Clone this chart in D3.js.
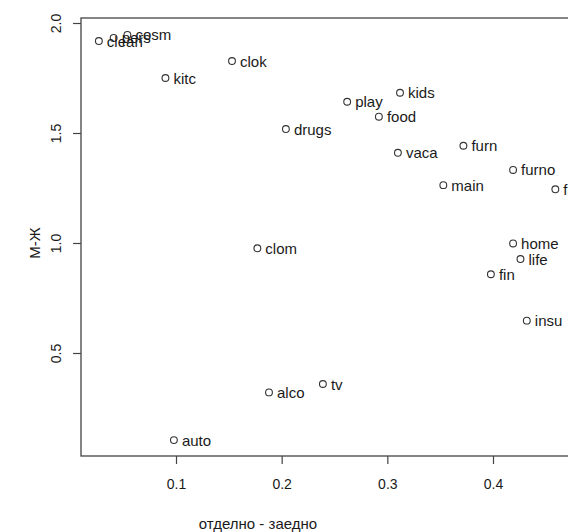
<!DOCTYPE html>
<html>
<head>
<meta charset="utf-8">
<script src="https://cdn.jsdelivr.net/npm/d3@7"></script>
<style>
  html, body { margin: 0; padding: 0; background: #fff; overflow: hidden; }
  svg { display: block; font-family: 'Liberation Sans', Arial, sans-serif; }
  .lbl { font-size: 15px; fill: #1a1a1a; }
  .tick-lbl { font-size: 14px; fill: #1a1a1a; }
  .title { font-size: 15px; fill: #1a1a1a; }
</style>
</head>
<body>
<svg id="chart" width="568" height="532"></svg>
<script>
// Category codes (point labels)
const categories = ['clean', 'pers', 'cosm', 'kitc', 'clok', 'play', 'kids', 'food', 'drugs',
  'vaca', 'furn', 'main', 'furno', 'fash', 'home', 'life', 'fin', 'insu', 'clom', 'alco', 'tv', 'auto']
// x: отделно - заедно
const xValues = [0.027, 0.041, 0.054, 0.090, 0.153, 0.262, 0.312, 0.292, 0.204,
  0.310, 0.372, 0.353, 0.419, 0.459, 0.419, 0.426, 0.398, 0.432, 0.177, 0.188, 0.239, 0.098]
// y: М-Ж
const yValues = [1.918, 1.932, 1.946, 1.750, 1.827, 1.642, 1.683, 1.574, 1.518,
  1.410, 1.442, 1.263, 1.332, 1.244, 0.998, 0.927, 0.858, 0.647, 0.976, 0.321, 0.359, 0.104]
const xTicks = [0.1, 0.2, 0.3, 0.4]
const yTicks = [0.5, 1.0, 1.5, 2.0]

const data = categories.map((c, i) => ({ label: c, x: xValues[i], y: yValues[i] }))

const svg = d3.select('#chart')
const box = { left: 81, top: 18, right: 620, bottom: 456 }

const x = d3.scaleLinear().domain([0.1, 0.4]).range([176, 493])
const y = d3.scaleLinear().domain([0.5, 2.0]).range([353, 23])

const fmt = d3.format('.1f')

// Box
svg.append('rect')
  .attr('x', box.left).attr('y', box.top)
  .attr('width', box.right - box.left).attr('height', box.bottom - box.top)
  .attr('fill', 'none').attr('stroke', '#444').attr('stroke-width', 1.3)

// X axis
const xa = svg.append('g')
  .attr('transform', `translate(0,${box.bottom})`)
  .call(d3.axisBottom(x).tickValues(xTicks).tickFormat(fmt).tickSize(8).tickPadding(15))
xa.select('.domain').remove()
xa.selectAll('line').attr('stroke', '#444').attr('stroke-width', 1.2)
xa.selectAll('text').attr('class', 'tick-lbl').attr('fill', null)
xa.attr('font-family', null).attr('font-size', null)

// Y axis
const ya = svg.append('g')
  .attr('transform', `translate(${box.left},0)`)
  .call(d3.axisLeft(y).tickValues(yTicks).tickFormat(fmt).tickSize(8))
ya.select('.domain').remove()
ya.selectAll('line').attr('stroke', '#444').attr('stroke-width', 1.2)
ya.selectAll('text')
  .attr('class', 'tick-lbl').attr('fill', null)
  .attr('x', null).attr('dy', null)
  .attr('text-anchor', 'middle')
  .attr('transform', 'translate(-25,0) rotate(-90)')
  .attr('dominant-baseline', 'central')
ya.attr('font-family', null).attr('font-size', null)

// Axis titles
svg.append('text').attr('class', 'title')
  .attr('x', 258).attr('y', 523)
  .attr('text-anchor', 'middle').attr('dominant-baseline', 'central')
  .text('отделно - заедно')
svg.append('text').attr('class', 'title')
  .attr('transform', `translate(34,${y(1.0)}) rotate(-90)`)
  .attr('text-anchor', 'middle').attr('dominant-baseline', 'central')
  .text('М-Ж')

// Points
svg.append('g').selectAll('circle')
  .data(data)
  .join('circle')
  .attr('cx', d => x(d.x)).attr('cy', d => y(d.y)).attr('r', 3.4)
  .attr('fill', 'none').attr('stroke', '#333').attr('stroke-width', 1.1)

// Labels
svg.append('g').selectAll('text')
  .data(data)
  .join('text')
  .attr('class', 'lbl')
  .attr('x', d => x(d.x) + 8).attr('y', d => y(d.y))
  .attr('dominant-baseline', 'central')
  .text(d => d.label)
</script>
</body>
</html>
